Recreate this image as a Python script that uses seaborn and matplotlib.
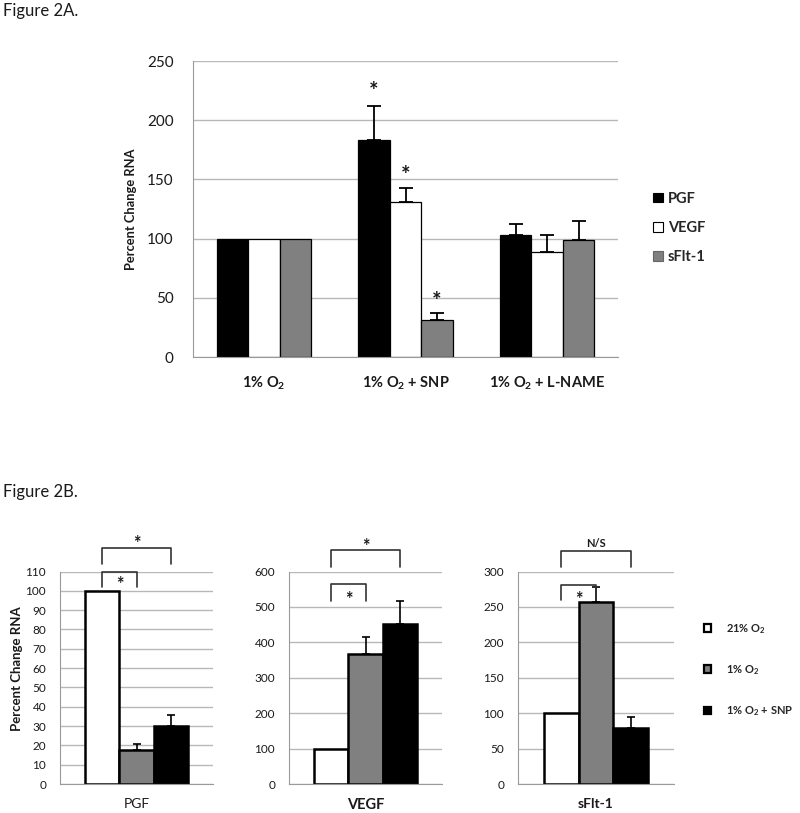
import matplotlib
matplotlib.use("Agg")
import matplotlib.pyplot as plt
from matplotlib.patches import Patch
import seaborn as sns
import pandas as pd

# ---------------- data ----------------
groups_2a = ["1% O$_2$", "1% O$_2$ + SNP", "1% O$_2$ + L-NAME"]
genes_2a = ["PGF", "VEGF", "sFlt-1"]
pgf_2a = [100, 183, 103]
pgf_err_2a = [0, 29, 9.5]
vegf_2a = [100, 131, 89]
vegf_err_2a = [0, 12, 14]
sflt_2a = [100, 31, 99]
sflt_err_2a = [0, 6, 16]
stars_2a = [(1, 0, 224), (1, 1, 153), (1, 2, 47)]  # (group, gene, y)

conditions_2b = ["21% O$_2$", "1% O$_2$", "1% O$_2$ + SNP"]
panels_2b = ["PGF", "VEGF", "sFlt-1"]
pgf_2b = [100, 17.6, 30.1]
pgf_err_2b = [0, 3.2, 5.7]
vegf_2b = [100, 366, 451]
vegf_err_2b = [0, 48, 65]
sflt_2b = [100, 257, 79]
sflt_err_2b = [0, 21, 16]
ylims_2b = [110, 600, 300]
yticks_2b = [10, 100, 50]

# brackets: (from bar, to bar, top, leg bottom, label, label y)
brackets_2b = [
    [(0, 1, 110, 102, "*", 103.5), (0, 2, 122, 114, "*", 124.5)],
    [(0, 1, 564, 516, "*", 522), (0, 2, 662, 613, "*", 670)],
    [(0, 1, 281, 260, "*", 261), (0, 2, 329, 307, "N/S", 340)],
]

# ---------------- style ----------------
sns.set_style("white")
plt.rcParams["font.family"] = ["Lato", "DejaVu Sans"]
plt.rcParams["mathtext.default"] = "regular"

fig = plt.figure(figsize=(8.0, 8.13), dpi=100)
W, H = 800, 813

def ax_rect(x0, y0, x1, y1):
    return [x0 / W, 1 - y1 / H, (x1 - x0) / W, (y1 - y0) / H]

GRID = "#b8b8b8"
SPINE = "#9a9a9a"
GRAY = "#808080"
TXT = "#1a1a1a"

fig.text(3 / W, 1 - 11 / H, "Figure 2A.", fontsize=12, va="center", ha="left", color=TXT)
fig.text(3 / W, 1 - 492 / H, "Figure 2B.", fontsize=12, va="center", ha="left", color=TXT)

# ---------------- Figure 2A ----------------
ax = fig.add_axes(ax_rect(193, 61, 618, 357))
rows = []
for gene, vals in zip(genes_2a, [pgf_2a, vegf_2a, sflt_2a]):
    for g, v in zip(groups_2a, vals):
        rows.append({"group": g, "gene": gene, "value": v})
df_a = pd.DataFrame(rows)
sns.barplot(data=df_a, x="group", y="value", hue="gene", order=groups_2a,
            hue_order=genes_2a, palette=["black", "white", GRAY],
            width=0.667, edgecolor="black", linewidth=0.9, errorbar=None,
            saturation=1, legend=False, ax=ax)
bar_conts = list(ax.containers)
errs_a = [pgf_err_2a, vegf_err_2a, sflt_err_2a]
for ci, cont in enumerate(bar_conts):
    for bi, bar in enumerate(cont):
        e = errs_a[ci][bi]
        if e > 0:
            xc = bar.get_x() + bar.get_width() / 2
            ax.errorbar(xc, bar.get_height(), yerr=[[0], [e]], fmt="none",
                        ecolor="black", elinewidth=1.3, capsize=5, capthick=1.3)
for gi, ci, y in stars_2a:
    bar = bar_conts[ci][gi]
    xc = bar.get_x() + bar.get_width() / 2
    ax.text(xc, y, "*", ha="center", va="center", fontsize=16, fontweight="bold",
            color=TXT)
ax.set_ylim(0, 250)
ax.set_yticks(range(0, 251, 50))
ax.set_xlim(-0.5, 2.5)
ax.yaxis.grid(True, color=GRID, lw=1)
ax.set_axisbelow(True)
for s in ["top", "right"]:
    ax.spines[s].set_visible(False)
for s in ["left", "bottom"]:
    ax.spines[s].set_color(SPINE)
ax.tick_params(axis="y", length=6, color=SPINE, pad=8, labelsize=11, labelcolor=TXT)
ax.tick_params(axis="x", which="major", length=0, pad=13, labelsize=10.5, labelcolor=TXT)
ax.set_xticks([-0.5, 0.5, 1.5, 2.5], minor=True)
ax.tick_params(axis="x", which="minor", length=5, color=SPINE)
for lab in ax.get_xticklabels():
    lab.set_fontweight("bold")
ax.set_xlabel("")
ax.set_ylabel("Percent Change RNA", fontsize=9.3, fontweight="bold", color=TXT)
ax.yaxis.set_label_coords((137 - 193) / 425, (357 - 209.5) / 296)

hand_a = [Patch(facecolor=c, edgecolor=ec, lw=0.8)
          for c, ec in zip(["black", "white", GRAY], ["black", "black", "#666666"])]
fig.legend(hand_a, genes_2a, loc="center left",
           bbox_to_anchor=(640 / W, 1 - 228 / H), frameon=False,
           prop={"weight": "bold", "size": 10.5}, handlelength=0.65,
           handleheight=0.65, handletextpad=0.35, labelspacing=1.05)

# ---------------- Figure 2B ----------------
rects_2b = [(60, 213), (289, 442), (518, 674)]
vals_2b = [pgf_2b, vegf_2b, sflt_2b]
errs_2b = [pgf_err_2b, vegf_err_2b, sflt_err_2b]
xlab_weight = ["normal", "bold", "bold"]
xlab_size = [10, 10.5, 10]
for pi, (gene, (x0, x1)) in enumerate(zip(panels_2b, rects_2b)):
    axb = fig.add_axes(ax_rect(x0, 571.5, x1, 784))
    dfb = pd.DataFrame({"gene": [gene] * 3, "condition": conditions_2b,
                        "value": vals_2b[pi]})
    sns.barplot(data=dfb, x="gene", y="value", hue="condition",
                hue_order=conditions_2b, palette=["white", GRAY, "black"],
                width=0.667, edgecolor="black", linewidth=1.8, errorbar=None,
                saturation=1, legend=False, ax=axb)
    conts_b = list(axb.containers)
    centers = []
    for ci, cont in enumerate(conts_b):
        bar = cont[0]
        xc = bar.get_x() + bar.get_width() / 2
        centers.append(xc)
        e = errs_2b[pi][ci]
        if e > 0:
            axb.errorbar(xc, bar.get_height(), yerr=[[0], [e]], fmt="none",
                         ecolor="black", elinewidth=1.2, capsize=3, capthick=1.2)
    for (a, b, top, leg, lab, ly) in brackets_2b[pi]:
        axb.plot([centers[a], centers[a], centers[b], centers[b]],
                 [leg, top, top, leg], color="#333333", lw=1.2, clip_on=False)
        if lab == "*":
            axb.text((centers[a] + centers[b]) / 2, ly, lab, ha="center",
                     va="center", fontsize=13, fontweight="bold", color=TXT)
        else:
            axb.text((centers[a] + centers[b]) / 2, ly, lab, ha="center",
                     va="center", fontsize=8, fontweight="bold", color=TXT)
    axb.set_xlim(-0.5, 0.5)
    axb.set_ylim(0, ylims_2b[pi])
    axb.set_yticks(range(0, ylims_2b[pi] + 1, yticks_2b[pi]))
    axb.yaxis.grid(True, color=GRID, lw=1)
    axb.set_axisbelow(True)
    for s in ["top", "right"]:
        axb.spines[s].set_visible(False)
    for s in ["left", "bottom"]:
        axb.spines[s].set_color(SPINE)
    axb.tick_params(axis="y", length=5, color=SPINE, pad=5, labelsize=8.5,
                    labelcolor=TXT)
    axb.tick_params(axis="x", length=0, pad=10, labelsize=xlab_size[pi], labelcolor=TXT)
    for lab in axb.get_xticklabels():
        lab.set_fontweight(xlab_weight[pi])
    axb.set_xlabel("")
    if pi == 0:
        axb.set_ylabel("Percent Change RNA", fontsize=9.5, fontweight="bold", color=TXT)
        axb.yaxis.set_label_coords((23 - 60) / 153, (784 - 668.5) / 212.5)
    else:
        axb.set_ylabel("")

hand_b = [Patch(facecolor=c, edgecolor="black", lw=1.6)
          for c in ["white", GRAY, "black"]]
fig.legend(hand_b, conditions_2b, loc="center left",
           bbox_to_anchor=(694 / W, 1 - 670 / H), frameon=False,
           prop={"weight": "bold", "size": 8.0}, handlelength=0.65,
           handleheight=0.65, handletextpad=1.3, labelspacing=2.45)

fig.savefig("out.png", dpi=100, facecolor="white")
